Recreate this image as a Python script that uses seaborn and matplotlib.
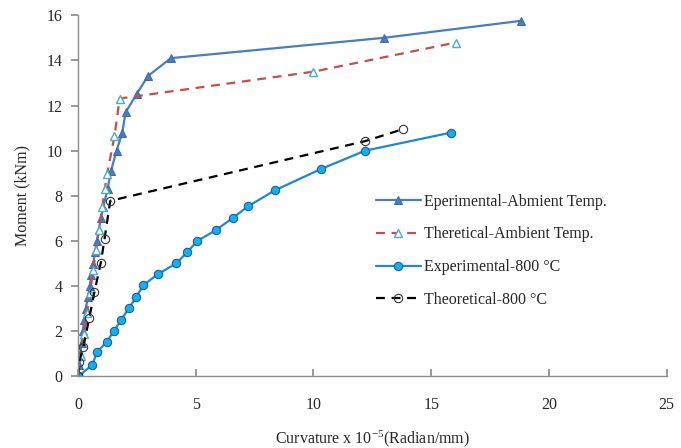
import matplotlib
matplotlib.use("Agg")
import matplotlib.pyplot as plt
import seaborn as sns
import pandas as pd

# Moment-curvature data (curvature in 1e-5 rad/mm, moment in kNm)
exp_amb_curv = [0, 0.05, 0.10, 0.15, 0.20, 0.27, 0.33, 0.42, 0.50, 0.57, 0.65, 0.72,
                0.80, 0.88, 0.97, 1.07, 1.26, 1.40, 1.64, 1.88, 2.02, 2.49, 2.96,
                3.95, 13.0, 18.8]
exp_amb_mom = [0, 0.5, 1.0, 1.5, 2.0, 2.5, 3.0, 3.5, 4.0, 4.5, 5.0, 5.5, 6.0, 6.5,
               7.0, 7.5, 8.3, 9.1, 10.0, 10.8, 11.7, 12.5, 13.3, 14.1, 15.0, 15.75]

theo_amb_curv = [0, 0.12, 0.26, 0.38, 0.51, 0.64, 0.77, 0.89, 1.03, 1.14, 1.23,
                 1.55, 1.77, 10.0, 16.04]
theo_amb_mom = [0, 0.9, 1.9, 2.8, 3.7, 4.7, 5.6, 6.5, 7.5, 8.3, 8.95, 10.64,
                12.31, 13.5, 14.79]

exp_800_curv = [0, 0.61, 0.80, 1.23, 1.52, 1.83, 2.16, 2.46, 2.78, 3.38, 4.18,
                4.64, 5.06, 5.85, 6.60, 7.21, 8.37, 10.3, 12.19, 15.83]
exp_800_mom = [0, 0.51, 1.07, 1.54, 2.01, 2.5, 3.02, 3.5, 4.05, 4.52, 5.02, 5.5,
               6.0, 6.48, 7.04, 7.53, 8.25, 9.18, 10.0, 10.8]

theo_800_curv = [0, 0.05, 0.23, 0.48, 0.70, 0.97, 1.13, 1.37, 12.18, 13.79]
theo_800_mom = [0, 0.63, 1.32, 2.6, 3.75, 5.04, 6.11, 7.78, 10.42, 10.95]

labels = ["Eperimental-Abmient Temp.", "Theretical-Ambient Temp.",
          "Experimental-800 \u00b0C", "Theoretical-800 \u00b0C"]

x_ticks = [0, 5, 10, 15, 20, 25]
y_ticks = [0, 2, 4, 6, 8, 10, 12, 14, 16]

sns.set_theme(style="white")
plt.rcParams["font.family"] = ["Liberation Serif", "DejaVu Serif"]
plt.rcParams["mathtext.default"] = "regular"

fig = plt.figure(figsize=(6.81, 4.48), dpi=100)
ax = fig.add_axes([0.1145, 0.1596, 0.8645, 0.8064])

styles = [
    dict(color="#4A7EBB", linestyle="-", marker="^", markersize=6,
         markerfacecolor="#4A7EBB", markeredgecolor="#3E6BA8", linewidth=1.6),
    dict(color="#C0504D", linestyle=(0, (4, 3)), marker="^", markersize=6,
         markerfacecolor="white", markeredgecolor="#4BACC6", markeredgewidth=1.0,
         linewidth=1.6),
    dict(color="#1E88D0", linestyle="-", marker="o", markersize=6,
         markerfacecolor="#14B0EC", markeredgecolor="#1F5C99", markeredgewidth=0.8,
         linewidth=1.6),
    dict(color="black", linestyle=(0, (4, 3)), marker="o", markersize=6,
         markerfacecolor="none", markeredgecolor="#333333", markeredgewidth=0.8,
         linewidth=1.6),
]

series = [(exp_amb_curv, exp_amb_mom), (theo_amb_curv, theo_amb_mom),
          (exp_800_curv, exp_800_mom), (theo_800_curv, theo_800_mom)]

for (xs, ys), lab, st in zip(series, labels, styles):
    df = pd.DataFrame({"curv": xs, "mom": ys})
    sns.lineplot(data=df, x="curv", y="mom", ax=ax, sort=False, label=lab,
                 estimator=None, **st)

ax.set_xlim(0, 25)
ax.set_ylim(0, 16)
ax.set_xticks(x_ticks)
ax.set_yticks(y_ticks)
ax.set_xticklabels([str(t) for t in x_ticks], fontsize=11.5)
ax.set_yticklabels([str(t) for t in y_ticks], fontsize=11.5)

for side in ("top", "right"):
    ax.spines[side].set_visible(False)
for side in ("left", "bottom"):
    ax.spines[side].set_color("#8C8C8C")
    ax.spines[side].set_linewidth(1.0)

ax.tick_params(axis="x", direction="in", length=5, color="#8C8C8C", pad=15,
               bottom=True)
ax.tick_params(axis="y", direction="out", length=5, color="#8C8C8C", pad=6,
               left=True)

ax.set_xlabel(r"Curvature x 10$^{-5}$(Radian/mm)", fontsize=11.5, labelpad=11)
ax.set_ylabel("Moment (kNm)", fontsize=11.5, labelpad=12)

ax.legend(loc="upper left", bbox_to_anchor=(0.531, 0.60),
          bbox_transform=fig.transFigure, frameon=False, fontsize=11.5,
          labelspacing=1.05, handlelength=2.8, handletextpad=0.2)

fig.savefig("out.png", dpi=100)
